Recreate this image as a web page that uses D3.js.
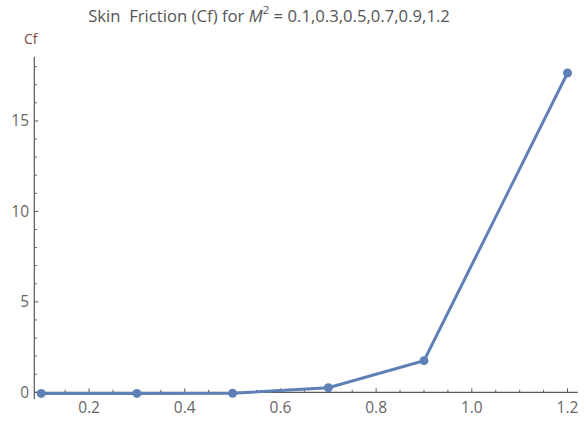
<!DOCTYPE html>
<html>
<head>
  <meta charset="utf-8">
  <title>Skin Friction (Cf)</title>
  <script src="https://d3js.org/d3.v7.min.js"></script>
  <style>
    body { margin: 0; background: #fff; }
    svg text { font-family: "Open Sans", "Noto Sans", sans-serif; }
    .tick-label { font-size: 15.5px; fill: #666; }
  </style>
</head>
<body>
  <svg width="586" height="424"></svg>
  <script>
    // Data
    const m2 = [0.1, 0.3, 0.5, 0.7, 0.9, 1.2];
    const cf = [-0.06, -0.06, -0.05, 0.25, 1.75, 17.65];
    const xTicks = [0.2, 0.4, 0.6, 0.8, 1.0, 1.2];
    const yTicks = [0, 5, 10, 15];

    const svg = d3.select("svg");
    const axisColor = "#5a5a5a";
    const lineColor = "#5e81b5";

    const x = d3.scaleLinear().domain([0.0855, 1.2213]).range([34.3, 577.7]);
    const y = d3.scaleLinear().domain([-0.37, 18.55]).range([399, 56.7]);

    // title
    const title = svg.append("text")
      .attr("x", 269).attr("y", 22)
      .attr("text-anchor", "middle")
      .style("font-size", "16.7px")
      .style("fill", "#555");
    title.append("tspan").text("Skin\u00a0 Friction (Cf) for ");
    title.append("tspan").style("font-style", "italic").text("M");
    title.append("tspan").attr("dy", -8).style("font-size", "11.5px").text("2");
    title.append("tspan").attr("dy", 8).text("\u00a0= 0.1,0.3,0.5,0.7,0.9,1.2");

    // y axis label
    svg.append("text")
      .attr("x", 24).attr("y", 44)
      .style("font-size", "14px")
      .style("fill", "#7d4a3c")
      .text("Cf");

    // axes lines
    svg.append("line")
      .attr("x1", x.range()[0]).attr("x2", x.range()[1])
      .attr("y1", y(0)).attr("y2", y(0))
      .attr("stroke", axisColor).attr("stroke-width", 1.2);
    svg.append("line")
      .attr("x1", x.range()[0]).attr("x2", x.range()[0])
      .attr("y1", y.range()[0]).attr("y2", y.range()[1])
      .attr("stroke", axisColor).attr("stroke-width", 1.2);

    // x ticks (minor every 0.05)
    const xMinor = d3.range(2, 25).map(i => i * 0.05);
    svg.selectAll(".xt").data(xMinor).join("line")
      .attr("x1", d => x(d)).attr("x2", d => x(d))
      .attr("y1", y(0))
      .attr("y2", d => y(0) - (Math.abs(d * 5 - Math.round(d * 5)) < 1e-6 ? 4 : 2.5))
      .attr("stroke", axisColor).attr("stroke-width", 1);
    svg.selectAll(".xl").data(xTicks).join("text")
      .attr("class", "tick-label")
      .attr("x", d => x(d)).attr("y", y(0) + 21)
      .attr("text-anchor", "middle")
      .text(d => d.toFixed(1));

    // y ticks (minor every 1)
    const yMinor = d3.range(0, 19);
    svg.selectAll(".yt").data(yMinor).join("line")
      .attr("x1", x.range()[0])
      .attr("x2", d => x.range()[0] + (d % 5 === 0 ? 4 : 2.5))
      .attr("y1", d => y(d)).attr("y2", d => y(d))
      .attr("stroke", axisColor).attr("stroke-width", 1);
    svg.selectAll(".yl").data(yTicks).join("text")
      .attr("class", "tick-label")
      .attr("x", 29).attr("y", d => y(d) + 5.5)
      .attr("text-anchor", "end")
      .text(d => d);

    // series
    const pts = m2.map((v, i) => [v, cf[i]]);
    svg.append("path")
      .datum(pts)
      .attr("fill", "none")
      .attr("stroke", lineColor)
      .attr("stroke-width", 3)
      .attr("d", d3.line().x(d => x(d[0])).y(d => y(d[1])));
    svg.selectAll(".pt").data(pts).join("circle")
      .attr("cx", d => x(d[0])).attr("cy", d => y(d[1]))
      .attr("r", 4.5)
      .attr("fill", lineColor);
  </script>
</body>
</html>
